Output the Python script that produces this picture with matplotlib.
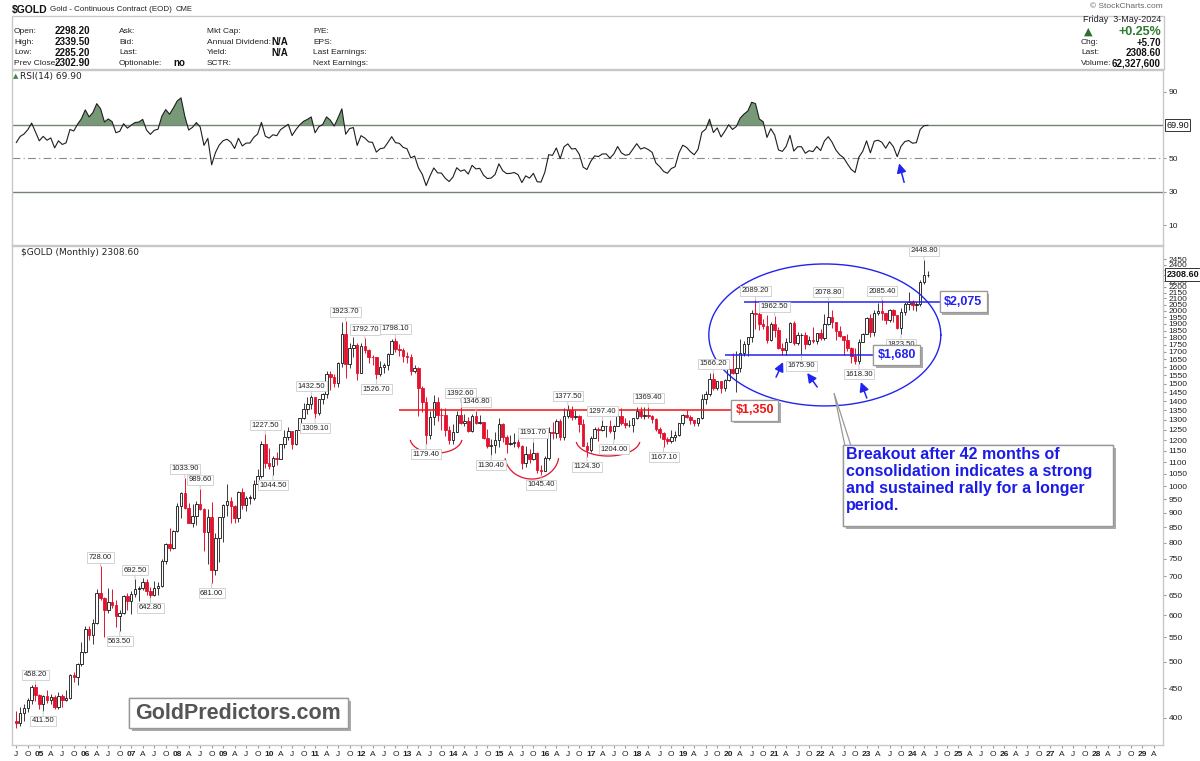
import numpy as np
import matplotlib
matplotlib.use("Agg")
import matplotlib.pyplot as plt
import matplotlib.patheffects as pe
from matplotlib.patches import Rectangle, Polygon
from matplotlib.ticker import NullLocator

plt.rcParams['font.family'] = ['Liberation Sans', 'DejaVu Sans']

# ---- $GOLD monthly candles, Jul 2004 .. May 2024 (month index 0 = Jan 2005)
first_month = -6

# closes before the first candle, only used to warm up the RSI (Jan 2002 .. Jun 2004)
rsi_warmup_closes = [282.3, 296.8, 301.4, 308.2, 326.6, 318.5, 304.7, 312.8, 323.7, 316.9, 318.0, 347.2,
                     368.1, 347.5, 336.8, 339.4, 364.5, 346.0, 354.8, 375.6, 388.0, 383.8, 397.7, 416.1,
                     399.8, 396.8, 427.5, 388.5, 395.5, 395.8]

closes = [391.4, 408.5, 415.7, 429.4, 452.9, 438.0,
          422.2, 435.6, 428.7, 435.0, 417.0, 435.7, 429.0, 433.2, 473.3, 470.8, 495.7, 518.9,
          569.0, 556.0, 582.0, 654.5, 643.5, 613.5, 632.5, 626.4, 599.3, 606.1, 646.6, 635.7,
          652.0, 666.5, 669.0, 683.5, 660.7, 650.9, 668.1, 673.0, 743.0, 794.5, 783.5, 838.0,
          923.7, 975.0, 916.2, 865.1, 887.3, 930.3, 913.9, 833.0, 884.5, 718.8, 814.5, 884.3,
          927.3, 942.0, 924.0, 883.2, 978.8, 927.4, 954.6, 955.2, 1007.8, 1040.0, 1181.5, 1095.2,
          1081.4, 1118.9, 1113.3, 1180.0, 1212.7, 1244.5, 1181.7, 1248.2, 1308.3, 1357.6, 1384.9, 1421.1,
          1332.8, 1409.3, 1439.0, 1556.0, 1536.6, 1502.3, 1628.3, 1825.0, 1620.4, 1725.2, 1746.4, 1566.8,
          1737.8, 1711.3, 1669.3, 1664.0, 1558.0, 1604.2, 1614.1, 1687.6, 1776.1, 1719.1, 1712.7, 1675.8,
          1663.6, 1578.1, 1595.7, 1472.2, 1393.2, 1223.7, 1312.4, 1395.8, 1327.0, 1323.6, 1250.6, 1202.3,
          1240.1, 1326.5, 1283.8, 1295.9, 1245.6, 1322.0, 1282.4, 1287.4, 1210.5, 1171.6, 1175.5, 1199.3,
          1278.5, 1212.6, 1183.1, 1184.2, 1190.1, 1171.1, 1095.4, 1135.0, 1114.0, 1141.5, 1064.1, 1061.1,
          1116.4, 1238.4, 1234.2, 1293.6, 1216.2, 1320.4, 1349.1, 1312.4, 1317.1, 1276.4, 1173.4, 1152.0,
          1212.0, 1254.4, 1249.2, 1268.3, 1269.4, 1242.3, 1269.6, 1322.2, 1284.8, 1271.1, 1275.6, 1309.3,
          1345.1, 1318.6, 1327.3, 1318.6, 1305.8, 1253.5, 1233.6, 1206.7, 1196.2, 1215.0, 1222.1, 1282.7,
          1325.2, 1316.1, 1298.5, 1285.7, 1311.1, 1413.7, 1437.8, 1529.4, 1472.9, 1514.8, 1472.8, 1523.1,
          1589.2, 1566.7, 1596.6, 1694.2, 1751.7, 1800.5, 1985.9, 1978.6, 1895.5, 1879.9, 1780.9, 1895.1,
          1850.3, 1728.8, 1715.6, 1769.1, 1907.0, 1763.2, 1817.2, 1818.1, 1757.0, 1784.9, 1776.5, 1829.7,
          1797.0, 1900.7, 1954.0, 1911.7, 1848.4, 1807.3, 1781.8, 1726.2, 1672.0, 1640.7, 1768.8, 1826.2,
          1945.6, 1836.7, 1986.2, 2000.5, 1982.1, 1929.4, 2009.2, 1965.9, 1870.0, 1993.6, 2057.2, 2071.8,
          2048.6, 2054.7, 2238.4, 2302.9, 2308.6]

highs = [411, 418, 422, 433, 456, 458.2,
         440, 438, 447, 439, 438, 443, 439, 447, 476, 480, 498, 541,
         575, 576, 591, 665, 728.0, 645, 669, 665, 638, 614, 650, 655,
         660, 692.5, 673, 697, 694, 671, 688, 684, 750, 799, 848, 842,
         934, 979, 1033.9, 936, 931, 943, 989.6, 918, 915, 938, 830, 885,
         933, 1007.7, 960, 928, 983, 992, 962, 964, 1025, 1072, 1195, 1227.5,
         1163, 1128, 1145, 1183, 1249, 1266, 1245, 1251, 1311, 1388, 1424, 1432.5,
         1423, 1413, 1448, 1575, 1577, 1557, 1632, 1917, 1923.7, 1763, 1804, 1764,
         1763, 1792.7, 1721, 1680, 1668, 1641, 1627, 1693, 1790, 1798.1, 1755, 1725,
         1698, 1685, 1617, 1604, 1488, 1424, 1348, 1433.8, 1424, 1362, 1361, 1267,
         1280, 1345, 1392.6, 1331, 1315, 1332, 1346.8, 1325, 1291, 1255, 1206, 1239,
         1307.8, 1286, 1224, 1224, 1232, 1205, 1175, 1170, 1157, 1191.7, 1144, 1088,
         1126, 1263.9, 1287.8, 1303, 1306, 1362, 1377.5, 1375, 1352, 1326, 1306, 1191,
         1221, 1264, 1263, 1297.4, 1270, 1297, 1274, 1331, 1362, 1307, 1300, 1310,
         1366, 1365, 1365, 1369.4, 1326, 1309, 1266, 1237, 1215, 1247, 1246, 1286,
         1331, 1349, 1324, 1301, 1311, 1442, 1456, 1565, 1566.2, 1518, 1516, 1527,
         1611, 1691, 1704, 1788, 1775, 1804, 2005, 2089.2, 1991, 1933, 1966, 1911,
         1962.5, 1876, 1758, 1798, 1916, 1919, 1836, 1834, 1837, 1813, 1877, 1831,
         1858, 1976, 2078.8, 2003, 1910, 1880, 1814, 1824, 1735, 1729, 1786, 1833,
         1950, 1975, 2009, 2064, 2085.4, 1986, 2014, 2011, 1971, 2019, 2075, 2152.3,
         2090, 2075, 2257, 2448.8, 2339.5]

lows = [385, 387, 396, 409, 423, 427,
        414, 411.5, 424, 423, 414, 414, 417, 428, 431, 462, 456, 491,
        517, 545, 536, 581, 638, 552, 605, 617, 573, 563.5, 603, 613,
        603, 646, 636, 664, 650, 642.8, 648, 650, 672, 736, 775, 781,
        835, 881, 914, 865, 850, 857, 910, 775, 736, 681.0, 705, 741,
        802, 889, 865, 865, 869, 915, 905, 933, 946, 996, 1033, 1075,
        1072, 1044.5, 1088, 1112, 1165, 1199, 1157, 1177, 1241, 1306, 1329, 1358,
        1309.1, 1324, 1384, 1417, 1462, 1478, 1478, 1603, 1535, 1598, 1669, 1523,
        1564, 1690, 1628, 1615, 1526.7, 1547, 1563, 1584, 1683, 1698, 1672, 1636,
        1626, 1554, 1562, 1321, 1339, 1179.4, 1207, 1273, 1292, 1251, 1221, 1181.4,
        1182, 1238, 1277, 1268, 1240, 1240, 1280, 1280, 1204, 1161, 1130.4, 1141,
        1167, 1191, 1142, 1175, 1168, 1162, 1072, 1080, 1098, 1109, 1053, 1045.4,
        1060, 1111, 1206, 1208, 1199, 1200, 1310, 1301, 1305, 1241, 1171, 1124.3,
        1146, 1208, 1194, 1244, 1214, 1236, 1204, 1267, 1275, 1260, 1265, 1238,
        1302, 1307, 1303, 1310, 1282, 1245, 1211, 1167.1, 1180, 1187, 1197, 1221,
        1276, 1311, 1281, 1267, 1268, 1304, 1384, 1426, 1465, 1460, 1445, 1459,
        1518, 1560, 1450, 1568, 1676, 1671, 1771, 1863, 1851, 1860, 1764, 1775,
        1802, 1717, 1676.9, 1678, 1766, 1750, 1750, 1675.9, 1721, 1746, 1759, 1753,
        1780, 1782, 1890, 1872, 1785, 1805, 1681, 1709, 1626, 1622, 1618.3, 1765,
        1826, 1805, 1810, 1969, 1932, 1900, 1910, 1913, 1859, 1823.5, 1965, 2008,
        2010, 2000, 2038, 2228, 2285.2]

# price call-outs written on the chart (month index, price, H above high / L below low)
label_month = [-1, 1, 16, 21, 25, 29, 38, 42, 45, 59, 61, 71, 72, 80, 85, 88, 93, 101, 110,
               114, 118, 129, 131, 138, 143, 147, 150, 159, 163, 176, 187, 192, 199, 206,
               214, 220, 225, 231]
label_price = [458.2, 411.5, 728.0, 563.5, 692.5, 642.8, 1033.9, 989.6, 681.0, 1227.5, 1044.5,
               1432.5, 1309.1, 1923.7, 1792.7, 1526.7, 1798.1, 1179.4, 1392.6, 1346.8, 1130.4,
               1191.7, 1045.4, 1377.5, 1124.3, 1297.4, 1204.0, 1369.4, 1167.1, 1566.2, 2089.2,
               1962.5, 1675.9, 2078.8, 1618.3, 2085.4, 1823.5, 2448.8]
label_side = ['H', 'L', 'H', 'L', 'H', 'L', 'H', 'H', 'L', 'H', 'L', 'H', 'L', 'H', 'H', 'L', 'H',
              'L', 'H', 'H', 'L', 'H', 'L', 'H', 'L', 'H', 'L', 'H', 'L', 'H', 'H', 'H', 'L', 'H',
              'L', 'H', 'L', 'H']

# horizontal levels drawn by the analyst
level_price = [1350, 1680, 2075]
level_text = ['$1,350', '$1,680', '$2,075']
level_start = [94, 179, 184]
level_end = [180.8, 217.8, 235.2]
level_color = ['#f01414', '#2323f0', '#2323f0']

RED = '#e3122f'
BLUE = '#2323f0'

W, H = 1200, 761
fig = plt.figure(figsize=(W / 100, H / 100), dpi=100)


def fx(px):
    return px / W


def fy(py):
    return 1 - py / H


ax_rsi = fig.add_axes([fx(12), fy(245), (1163 - 12) / W, (245 - 70) / H])
ax = fig.add_axes([fx(12), fy(745), (1163 - 12) / W, (745 - 246) / H])

x = np.arange(first_month, first_month + len(closes))
c = np.array(closes, float)
o = np.array([rsi_warmup_closes[-1]] + closes[:-1], float)
hi = np.array(highs, float)
lo = np.array(lows, float)
up = c >= o

# ---- candles
ax.set_yscale('log')
ax.set_xlim(-7.13, 293.4)
ax.set_ylim(359.5, 2584)
ax.vlines(x, lo, hi, colors=np.where(up, '#3a3a3a', RED), lw=0.7, zorder=2)
body_lo = np.minimum(o, c)
body_h = np.maximum(np.abs(c - o), c * 0.002)
ax.bar(x, body_h, bottom=body_lo, width=0.66, color=np.where(up, 'white', RED),
       edgecolor=np.where(up, '#111111', RED), lw=0.6, zorder=3)

ylev = list(range(400, 2451, 50))
ax.yaxis.tick_right()
ax.set_yticks(ylev)
ax.set_yticklabels(['' if v == 2300 else str(v) for v in ylev])
ax.yaxis.set_minor_locator(NullLocator())
ax.tick_params(axis='y', labelsize=6, length=2, pad=2, colors='#999999', labelcolor='#222222')

xt = np.arange(-6, 292, 3)
names = {3: 'A', 6: 'J', 9: 'O'}
xl = [f'{(2005 + t // 12) % 100:02d}' if t % 12 == 0 else names[t % 12] for t in xt]
ax.set_xticks(xt)
ax.set_xticklabels(xl)
for t, lab in zip(xt, ax.get_xticklabels()):
    if t % 12 == 0:
        lab.set_fontweight('bold')
ax.tick_params(axis='x', labelsize=6, length=2, pad=2, colors='#999999', labelcolor='#222222')

for a in (ax, ax_rsi):
    for s in a.spines.values():
        s.set_color('#c8c8c8')
        s.set_linewidth(1)

ax.text(0.008, 0.995, '$GOLD (Monthly) 2308.60', transform=ax.transAxes, fontsize=6.5,
        family='DejaVu Sans', va='top', ha='left', color='#222222')

# last price marker on the axis
ax.text(1.003, 2308.6, '2308.60', transform=ax.get_yaxis_transform(), fontsize=6.5,
        weight='bold', va='center', ha='left', color='#111111', zorder=9,
        bbox=dict(boxstyle='square,pad=0.2', fc='white', ec='#333333', lw=0.7), clip_on=False)

# price call-outs
for m, p, s in zip(label_month, label_price, label_side):
    dy = 9 if s == 'H' else -10
    ax.annotate(f'{p:.2f}', xy=(m, p), xytext=(0, dy), textcoords='offset pixels',
                ha='center', va='center', fontsize=5.5, color='#222222', zorder=6,
                bbox=dict(boxstyle='square,pad=0.2', fc='white', ec='#cccccc', lw=0.6),
                arrowprops=dict(arrowstyle='-', color='#c4c4c4', lw=0.6, shrinkA=0, shrinkB=0))

shadow = [pe.withSimplePatchShadow(offset=(2, -2), shadow_rgbFace='#aaaaaa', alpha=1.0), pe.Normal()]

# support / resistance levels
for lev, txt, x0, x1, col in zip(level_price, level_text, level_start, level_end, level_color):
    ax.hlines(lev, x0, x1, color=col, lw=1.1, zorder=4)
    t = ax.text(x1 + 1.0, lev, txt, color=col, fontsize=9, weight='bold', va='center',
                ha='left', zorder=8,
                bbox=dict(boxstyle='square,pad=0.35', fc='white', ec='#999999', lw=0.9))
    t.get_bbox_patch().set_path_effects(shadow)


def px_arc(axes, center, a, b, t0, t1, **kw):
    # ellipse drawn in screen pixels around a data point
    cx, cy = axes.transData.transform(center)
    t = np.linspace(t0, t1, 300)
    pts = np.column_stack([cx + a * np.cos(t), cy + b * np.sin(t)])
    d = axes.transData.inverted().transform(pts)
    axes.plot(d[:, 0], d[:, 1], **kw)


# consolidation ellipse
px_arc(ax, (205.1, 1818), 116, 71, 0, 2 * np.pi, color=BLUE, lw=1.0, zorder=5)
# rounded bottoms
px_arc(ax, (103.6, 1209), 26, 15, np.pi * 1.05, np.pi * 1.95, color=RED, lw=0.9, zorder=5)
px_arc(ax, (128.6, 1131), 27, 24, np.pi * 1.05, np.pi * 1.95, color=RED, lw=0.9, zorder=5)
px_arc(ax, (148.5, 1200), 32, 16, np.pi * 1.05, np.pi * 1.95, color=RED, lw=0.9, zorder=5)

arrow_kw = dict(arrowstyle='-|>,head_length=0.55,head_width=0.28', color=BLUE, lw=1.1,
                shrinkA=0, shrinkB=0)
for tip, off in [((194.2, 1633), (-7, -15)), ((200.5, 1564), (10, -14)), ((214.5, 1509), (6, -16))]:
    ax.annotate('', xy=tip, xytext=off, textcoords='offset pixels', arrowprops=arrow_kw, zorder=7)

# ---- RSI(14)


def wilder_rsi(values, n=14):
    v = np.asarray(values, float)
    d = np.diff(v)
    g = np.where(d > 0, d, 0.0)
    l = np.where(d < 0, -d, 0.0)
    ag, al = g[:n].mean(), l[:n].mean()
    out = [np.nan] * n + [100 - 100 / (1 + ag / al)]
    for i in range(n, len(d)):
        ag = (ag * (n - 1) + g[i]) / n
        al = (al * (n - 1) + l[i]) / n
        out.append(100 - 100 / (1 + ag / al))
    return np.array(out)


rsi = wilder_rsi(rsi_warmup_closes + closes)[len(rsi_warmup_closes):]

ax_rsi.set_xlim(-7.13, 293.4)
ax_rsi.set_ylim(-2, 103)
ax_rsi.axhline(70, color='#738473', lw=1, zorder=1)
ax_rsi.axhline(30, color='#738473', lw=1, zorder=1)
ax_rsi.axhline(50, color='#8a8a8a', lw=0.8, ls=(0, (7, 3, 1, 3)), zorder=1)
ax_rsi.fill_between(x, rsi, 70, where=rsi >= 70, interpolate=True, color='#779977', lw=0, zorder=2)
ax_rsi.plot(x, rsi, color='#1e1e1e', lw=0.8, zorder=3)
ax_rsi.set_xticks([])
ax_rsi.yaxis.tick_right()
ax_rsi.set_yticks([10, 30, 50, 90])
ax_rsi.tick_params(axis='y', labelsize=6, length=2, pad=2, colors='#999999', labelcolor='#222222')
ax_rsi.text(1.003, 70, '69.90', transform=ax_rsi.get_yaxis_transform(), fontsize=6.5,
            va='center', ha='left', color='#111111', zorder=9, clip_on=False,
            bbox=dict(boxstyle='square,pad=0.15', fc='white', ec='#333333', lw=0.7))
ax_rsi.annotate('', xy=(224.5, 47), xytext=(5, -19), textcoords='offset pixels', arrowprops=arrow_kw)

# ---- header
fig.text(fx(12), fy(9.5), '$GOLD', weight='bold', fontsize=7.5, va='center', ha='left', color='#111111')
fig.text(fx(50), fy(9.5), 'Gold - Continuous Contract (EOD)', fontsize=5.8, va='center', color='#222222')
fig.text(fx(176), fy(9.5), 'CME', fontsize=5.5, va='center', color='#222222')
fig.add_artist(Rectangle((fx(12), fy(69)), (1164 - 12) / W, (69 - 16) / H, transform=fig.transFigure,
                         fc='none', ec='#c8c8c8', lw=1))

rows_y = [31.5, 42, 53, 63.5]
cols = [
    (14, ['Open:', 'High:', 'Low:', 'Prev Close:'], 55, ['2298.20', '2339.50', '2285.20', '2302.90'], 'left'),
    (119, ['Ask:', 'Bid:', 'Last:', 'Optionable:'], 173, ['', '', '', 'no'], 'left'),
    (207, ['Mkt Cap:', 'Annual Dividend:', 'Yield:', 'SCTR:'], 288, ['', 'N/A', 'N/A', ''], 'right'),
    (313, ['P/E:', 'EPS:', 'Last Earnings:', 'Next Earnings:'], None, None, 'left'),
]
for lx, labs, vx, vals, vha in cols:
    for i, yy in enumerate(rows_y):
        fig.text(fx(lx), fy(yy), labs[i], fontsize=6, va='center', color='#222222')
        if vals and vals[i]:
            fig.text(fx(vx), fy(yy), vals[i], fontsize=7, weight='bold', va='center', ha=vha,
                     color='#111111')

fig.text(fx(1163), fy(7), '© StockCharts.com', fontsize=6, va='center', ha='right', color='#666666')
fig.text(fx(1161), fy(20), 'Friday  3-May-2024', fontsize=6.5, va='center', ha='right', color='#222222')
fig.text(fx(1088), fy(32), '▲', fontsize=8, va='center', ha='center', color='#2f6e2f', family='DejaVu Sans')
fig.text(fx(1161), fy(32), '+0.25%', fontsize=9, weight='bold', va='center', ha='right', color='#2f7a2f')
for yy, lab, val in [(42.5, 'Chg:', '+5.70'), (53, 'Last:', '2308.60'), (63.5, 'Volume:', '62,327,600')]:
    fig.text(fx(1081), fy(yy), lab, fontsize=6, va='center', ha='left', color='#222222')
    fig.text(fx(1161), fy(yy), val, fontsize=7, weight='bold', va='center', ha='right', color='#111111')

fig.text(fx(13), fy(76), '▲', fontsize=5, va='center', ha='left', color='#4f7f4f', family='DejaVu Sans')
fig.text(fx(20), fy(76), 'RSI(14) 69.90', fontsize=6.5, va='center', ha='left', color='#222222',
         family='DejaVu Sans')

# ---- comment box with pointer to the ellipse
pointer = Polygon([(fx(834), fy(393)), (fx(845), fy(446)), (fx(851), fy(446))], closed=True,
                  transform=fig.transFigure, fc='white', ec='#999999', lw=0.9, zorder=10)
fig.add_artist(pointer)
box = Rectangle((fx(843), fy(526)), (1113 - 843) / W, (526 - 445) / H, transform=fig.transFigure,
                fc='white', ec='#999999', lw=1, zorder=11)
box.set_path_effects(shadow)
fig.add_artist(box)
fig.text(fx(846), fy(447), 'Breakout after 42 months of\nconsolidation indicates a strong\n'
         'and sustained rally for a longer\nperiod.', fontsize=11.5, weight='bold', color='#1c1ce8',
         va='top', ha='left', linespacing=1.17, zorder=12)

logo = Rectangle((fx(129), fy(728)), (348 - 129) / W, (728 - 698) / H, transform=fig.transFigure,
                 fc='white', ec='#999999', lw=1, zorder=11)
logo.set_path_effects(shadow)
fig.add_artist(logo)
fig.text(fx(238.5), fy(713.5), 'GoldPredictors.com', fontsize=15.5, weight='bold', color='#555555',
         va='center', ha='center', zorder=12)

fig.savefig('out.png', dpi=100)
